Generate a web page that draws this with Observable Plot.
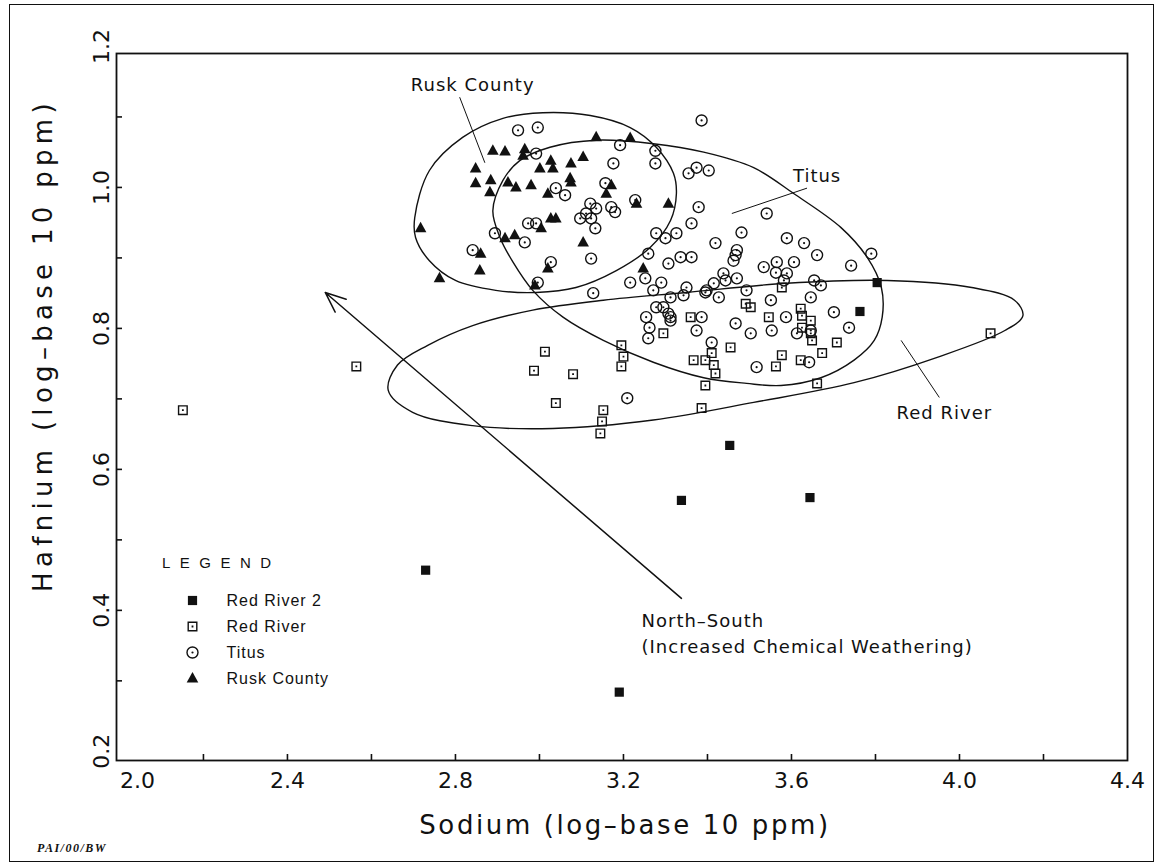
<!DOCTYPE html>
<html><head><meta charset="utf-8">
<script src="https://cdn.jsdelivr.net/npm/d3@7"></script>
<script src="https://cdn.jsdelivr.net/npm/@observablehq/plot@0.6"></script>
<style>
body{margin:0;background:#fff;}
#wrap{position:relative;width:1159px;height:867px;overflow:hidden;background:#fff;color:#111;}
#wrap > svg{position:absolute;left:0;top:0;}
#border{position:absolute;left:9px;top:4px;width:1145px;height:858px;border:1.6px solid #111;box-sizing:border-box;}
.t{position:absolute;white-space:nowrap;color:#111;}
#xtitle{left:625px;top:825px;transform:translate(-50%,-50%);font:26px "DejaVu Sans";letter-spacing:2.6px;}
#ytitle{left:43px;top:345px;transform:translate(-50%,-50%) rotate(-90deg);font:26px "DejaVu Sans";letter-spacing:5.3px;}
#legtitle{left:162px;top:562px;transform:translateY(-50%);font:15px "Liberation Sans";letter-spacing:9.5px;}
#credit{left:37px;top:848px;transform:translateY(-50%);font:italic bold 12px "Liberation Serif";letter-spacing:1.5px;}
#leg{position:absolute;left:185px;top:587px;}
g[aria-label="text"] text{letter-spacing:1px;}
</style></head><body>
<div id="wrap"><div id="border"></div></div>
<script>
// ---------- data ----------
const series = ["Red River 2", "Red River", "Titus", "Rusk County"];

const redRiver2 = [
  [3.804,0.865],[3.763,0.824],[3.453,0.634],[3.338,0.556],[3.644,0.560],[3.190,0.284],[2.729,0.457]
];

const redRiver = [
  [2.151,0.684],[2.564,0.746],[2.987,0.740],[3.013,0.767],[3.080,0.735],[3.039,0.694],
  [3.195,0.776],[3.200,0.760],[3.195,0.746],[3.152,0.684],[3.149,0.668],[3.145,0.651],
  [3.577,0.858],[3.491,0.835],[3.503,0.830],[3.546,0.816],[3.622,0.828],[3.625,0.818],
  [3.646,0.811],[3.625,0.801],[3.646,0.793],[3.649,0.783],[3.360,0.816],[3.295,0.793],
  [3.455,0.773],[3.708,0.780],[3.673,0.765],[3.577,0.762],[3.563,0.746],[3.622,0.755],
  [3.367,0.755],[3.395,0.755],[3.410,0.765],[3.415,0.748],[3.419,0.736],[3.395,0.719],
  [3.661,0.722],[3.386,0.687],[4.074,0.793]
];

const titus = [
  [2.949,1.081],[2.996,1.085],[3.386,1.095],[2.992,1.048],[3.192,1.060],[3.276,1.052],
  [3.276,1.034],[3.176,1.034],[3.157,1.006],[3.039,0.999],[3.061,0.989],[3.121,0.977],
  [3.135,0.970],[3.111,0.963],[3.097,0.956],[3.123,0.956],[3.133,0.942],[3.171,0.972],
  [3.180,0.965],[2.973,0.949],[2.992,0.949],[2.894,0.935],[2.965,0.922],[2.841,0.911],
  [3.027,0.894],[3.123,0.899],[3.278,0.935],[3.300,0.928],[3.326,0.935],[3.259,0.906],
  [3.336,0.901],[3.307,0.892],[3.362,0.901],[3.362,0.949],[3.379,0.972],[3.355,1.020],
  [3.374,1.028],[3.403,1.024],[3.216,0.865],[3.252,0.871],[3.271,0.854],[3.290,0.865],
  [3.128,0.850],[2.996,0.865],[3.350,0.858],[3.312,0.844],[3.343,0.847],[3.398,0.854],
  [3.278,0.830],[3.295,0.830],[3.254,0.816],[3.312,0.816],[3.541,0.963],[3.481,0.936],
  [3.419,0.921],[3.470,0.911],[3.467,0.904],[3.462,0.896],[3.589,0.928],[3.630,0.921],
  [3.661,0.904],[3.790,0.906],[3.742,0.889],[3.606,0.894],[3.565,0.894],[3.534,0.887],
  [3.563,0.879],[3.589,0.878],[3.438,0.878],[3.443,0.868],[3.470,0.871],[3.415,0.864],
  [3.427,0.844],[3.395,0.851],[3.493,0.854],[3.551,0.840],[3.582,0.868],[3.654,0.868],
  [3.670,0.861],[3.646,0.844],[3.386,0.816],[3.374,0.797],[3.467,0.807],[3.503,0.793],
  [3.553,0.797],[3.587,0.816],[3.701,0.823],[3.737,0.801],[3.646,0.797],[3.613,0.793],
  [3.410,0.780],[3.517,0.745],[3.642,0.752],[3.307,0.821],[3.312,0.811],[3.209,0.701],
  [3.262,0.801],[3.259,0.786],[3.228,0.982]
];

const ruskCounty = [
  [3.135,1.071],[3.216,1.070],[2.889,1.052],[2.918,1.051],[2.965,1.054],[2.961,1.045],
  [2.848,1.027],[2.848,1.006],[2.884,1.010],[2.882,0.993],[2.925,1.007],[2.944,1.000],
  [2.980,1.003],[3.001,1.027],[3.027,1.038],[3.032,1.027],[3.075,1.034],[3.104,1.043],
  [3.073,1.013],[3.075,1.007],[3.020,0.991],[3.171,1.003],[3.159,0.991],[3.231,0.977],
  [3.307,0.977],[3.027,0.956],[3.039,0.956],[3.004,0.942],[2.918,0.928],[2.941,0.932],
  [3.104,0.922],[2.860,0.906],[2.858,0.882],[2.762,0.871],[2.717,0.942],[3.020,0.885],
  [3.247,0.885],[2.989,0.861]
];

// group envelopes (outline points)
const ruskEllipse = [
  [2.703,0.957],[2.738,1.024],[2.817,1.071],[2.913,1.098],[3.008,1.106],[3.121,1.102],
  [3.216,1.085],[3.278,1.057],[3.319,1.020],[3.326,0.991],[3.312,0.953],[3.264,0.915],
  [3.183,0.882],[3.087,0.858],[2.992,0.851],[2.896,0.854],[2.800,0.868],[2.738,0.896],
  [2.705,0.929]
];
const titusEllipse = [
  [2.889,0.967],[2.913,1.010],[2.953,1.038],[3.025,1.057],[3.135,1.067],[3.271,1.062],
  [3.391,1.050],[3.510,1.028],[3.606,0.991],[3.718,0.943],[3.780,0.901],[3.814,0.858],
  [3.816,0.816],[3.797,0.783],[3.749,0.755],[3.670,0.730],[3.575,0.719],[3.493,0.722],
  [3.391,0.730],[3.271,0.752],[3.152,0.783],[3.056,0.816],[2.984,0.854],[2.937,0.894],
  [2.906,0.929]
];
const redRiverEllipse = [
  [2.640,0.712],[2.662,0.748],[2.734,0.776],[2.841,0.804],[2.984,0.826],[3.152,0.840],
  [3.350,0.851],[3.589,0.864],[3.828,0.868],[4.029,0.858],[4.131,0.840],[4.151,0.818],
  [4.108,0.797],[3.947,0.759],[3.749,0.723],[3.510,0.695],[3.271,0.670],[3.032,0.658],
  [2.841,0.662],[2.698,0.681]
];

// annotations
const labelText = ["Rusk County", "Titus", "Red River"];
const labelX = [2.841, 3.661, 3.964];
const labelY = [1.145, 1.016, 0.679];
const leaderX1 = [2.810, 3.637, 3.861];
const leaderY1 = [1.128, 0.999, 0.783];
const leaderX2 = [2.870, 3.458, 3.952];
const leaderY2 = [1.035, 0.963, 0.702];
const trendText = ["North\u2013South\n(Increased Chemical Weathering)"];
const trendTextX = [3.243];
const trendTextY = [0.403];
const arrowFrom = [3.338, 0.417];
const arrowTo = [2.490, 0.851];

// axes
const xFirstLabel = [2.0];
const xTickLabels = [2.4, 2.8, 3.2, 3.6, 4.0, 4.4];
const xMinorTicks = [2.2, 2.4, 2.6, 2.8, 3.0, 3.2, 3.4, 3.6, 3.8, 4.0, 4.2];
const yTickLabels = [0.2, 0.4, 0.6, 0.8, 1.0, 1.2];
const yMinorTicks = [0.3, 0.4, 0.5, 0.6, 0.7, 0.8, 0.9, 1.0, 1.1];

// ---------- symbols ----------
const TAU = Math.PI * 2;
const symFilledSquare = {draw(c) { const s = 4.6;
  c.moveTo(-s,-s); c.lineTo(s,-s); c.lineTo(s,s); c.lineTo(-s,s); c.closePath(); }};
const symOpenSquare = {draw(c) { const s = 5, t = 3.6, d = 0.9;
  c.moveTo(-s,-s); c.lineTo(s,-s); c.lineTo(s,s); c.lineTo(-s,s); c.closePath();
  c.moveTo(-t,-t); c.lineTo(-t,t); c.lineTo(t,t); c.lineTo(t,-t); c.closePath();
  c.moveTo(-d,-d); c.lineTo(d,-d); c.lineTo(d,d); c.lineTo(-d,d); c.closePath(); }};
const symCircleDot = {draw(c) { const r = 6.2, ri = 4.8, d = 1.1;
  c.moveTo(r,0); c.arc(0,0,r,0,TAU);
  c.moveTo(ri,0); c.arc(0,0,ri,0,TAU,true);
  c.moveTo(d,0); c.arc(0,0,d,0,TAU); }};
const symTriangle = {draw(c) { const w = 5.8, h = 10.5;
  c.moveTo(0,-h*0.62); c.lineTo(w,h*0.38); c.lineTo(-w,h*0.38); c.closePath(); }};
const symbolScale = {domain: series, range: [symFilledSquare, symOpenSquare, symCircleDot, symTriangle]};

const points = [
  ...redRiver.map(([x,y]) => ({x, y, series: "Red River"})),
  ...titus.map(([x,y]) => ({x, y, series: "Titus"})),
  ...ruskCounty.map(([x,y]) => ({x, y, series: "Rusk County"})),
  ...redRiver2.map(([x,y]) => ({x, y, series: "Red River 2"}))
];
const labels = labelText.map((text,i) => ({text, x: labelX[i], y: labelY[i]}));
const leaders = leaderX1.map((x1,i) => ({x1, y1: leaderY1[i], x2: leaderX2[i], y2: leaderY2[i]}));
const trend = trendText.map((text,i) => ({text, x: trendTextX[i], y: trendTextY[i]}));
const arrows = [{x1: arrowFrom[0], y1: arrowFrom[1], x2: arrowTo[0], y2: arrowTo[1]}];
const envelopes = [ruskEllipse, titusEllipse, redRiverEllipse];

const ink = "#111";
const fmt = d => d.toFixed(1);
const plot = Plot.plot({
  width: 1159, height: 867,
  marginLeft: 116, marginTop: 53, marginRight: 32, marginBottom: 107,
  x: {domain: [1.993, 4.4]},
  y: {domain: [0.187, 1.19]},
  symbol: symbolScale,
  style: {fontFamily: "DejaVu Sans", color: ink, background: "transparent", overflow: "visible"},
  marks: [
    ...envelopes.map(e => Plot.line(e, {x: d => d[0], y: d => d[1], curve: "catmull-rom-closed", stroke: ink, strokeWidth: 1.4})),
    Plot.link(leaders, {x1: "x1", y1: "y1", x2: "x2", y2: "y2", stroke: ink, strokeWidth: 1}),
    Plot.arrow(arrows, {x1: "x1", y1: "y1", x2: "x2", y2: "y2", stroke: ink, strokeWidth: 1.5, headLength: 22, headAngle: 45}),
    Plot.text(labels, {x: "x", y: "y", text: "text", fontSize: 18, fill: ink}),
    Plot.text(trend, {x: "x", y: "y", text: "text", fontSize: 18, fill: ink, textAnchor: "start", lineAnchor: "top", lineHeight: 1.45}),
    Plot.dot(points, {x: "x", y: "y", symbol: "series", fill: ink, stroke: "none"}),
    Plot.frame({stroke: ink, strokeWidth: 1.8}),
    Plot.axisX(xMinorTicks, {tickSize: -6, tickFormat: () => "", strokeWidth: 1.6, label: null}),
    Plot.axisX(xFirstLabel, {tickSize: 0, tickPadding: 12, fontSize: 22, dx: 18, tickFormat: fmt, label: null}),
    Plot.axisX(xTickLabels, {tickSize: 0, tickPadding: 12, fontSize: 22, tickFormat: fmt, label: null}),
    Plot.axisY(yMinorTicks, {tickSize: -6, tickFormat: () => "", strokeWidth: 1.6, label: null}),
    Plot.axisY(yTickLabels, {tickSize: 0, tickPadding: 8, tickRotate: -90, fontSize: 22, tickFormat: fmt, label: null})
  ]
});

const wrap = document.getElementById("wrap");
wrap.appendChild(plot);

// legend: a small Plot chart sharing the same symbol scale
const legendPlot = Plot.plot({
  width: 170, height: 104, margin: 0,
  x: {axis: null, domain: [0, 1]},
  y: {type: "point", domain: series, range: [13, 91], padding: 0, axis: null},
  symbol: symbolScale,
  style: {background: "transparent", overflow: "visible", color: ink},
  marks: [
    Plot.dot(series, {y: d => d, symbol: d => d, frameAnchor: "left", dx: 7, fill: ink, stroke: "none"}),
    Plot.text(series, {y: d => d, text: d => d, frameAnchor: "left", dx: 41, textAnchor: "start",
      fontSize: 16, fontFamily: "Liberation Sans", fill: ink})
  ]
});
const legHolder = document.createElement("div");
legHolder.id = "leg";
legHolder.appendChild(legendPlot);
wrap.appendChild(legHolder);

function addText(id, txt) {
  const d = document.createElement("div");
  d.className = "t"; d.id = id; d.textContent = txt;
  wrap.appendChild(d);
}
addText("xtitle", "Sodium (log\u2013base 10 ppm)");
addText("ytitle", "Hafnium (log\u2013base 10 ppm)");
addText("legtitle", "LEGEND");
addText("credit", "PAI/00/BW");
</script>
</body></html>
